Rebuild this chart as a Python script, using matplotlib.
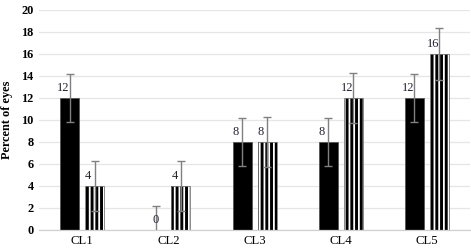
import numpy as np
import matplotlib
matplotlib.use("Agg")
import matplotlib.pyplot as plt

# ── Data ───────────────────────────────────────────────────────────────────────
categories = ["CL1", "CL2", "CL3", "CL4", "CL5"]
solid_vals = [12, 0, 8, 8, 12]
solid_err = [2.2, 2.2, 2.2, 2.2, 2.2]
striped_vals = [4, 4, 8, 12, 16]
striped_err = [2.3, 2.3, 2.3, 2.3, 2.4]
yticks = list(range(0, 21, 2))

# dpi picked so the '|||' hatch gives ~4.7 px stripe spacing
DPI = 85
S = 100 / DPI  # keep sizes as if drawn at 100 dpi

plt.rcParams.update({
    "font.family": "Liberation Serif",
    "hatch.linewidth": 2.1 * S,
})
GRID = "#e6e6e6"
ERR = "#808080"

fig = plt.figure(figsize=(471 / DPI, 248 / DPI), dpi=DPI)
ax = fig.add_axes([0.083, 0.073, 0.915, 0.887])

x = np.arange(len(categories))
off, w = 0.145, 0.22

ax.bar(x - off, solid_vals, width=w, color="black", edgecolor="#555555",
       linewidth=0.6 * S, zorder=2)
ax.bar(x + off, striped_vals, width=w, color="white", edgecolor="black",
       hatch="|||", linewidth=0, zorder=2)
ax.bar(x + off, striped_vals, width=w, fill=False, edgecolor="#777777",
       linewidth=0.6 * S, zorder=2)

for xs, vals, errs in ((x - off, solid_vals, solid_err),
                       (x + off, striped_vals, striped_err)):
    ax.errorbar(xs, vals, yerr=errs, fmt="none", ecolor=ERR,
                elinewidth=1 * S, capsize=3 * S, capthick=1 * S, zorder=3)
    for xi, v in zip(xs, vals):
        dx = 0 if v == 0 else -0.075
        ax.text(xi + dx, v + 0.35, str(v), ha="center", va="bottom",
                fontsize=9 * S, color="#222233", zorder=4)

ax.set_xlim(-0.5, len(categories) - 0.5)
ax.set_ylim(0, 20)
ax.set_yticks(yticks)
ax.set_xticks(x)
ax.set_xticklabels(categories, fontsize=9.2 * S)
for lab in ax.get_yticklabels():
    lab.set_fontweight("bold")
    lab.set_fontsize(8.8 * S)
ax.tick_params(axis="both", length=0, pad=4 * S)
ax.set_ylabel("Percent of eyes", fontweight="bold", fontsize=8.8 * S,
              labelpad=6 * S)

ax.yaxis.grid(True, color=GRID, linewidth=0.9 * S, zorder=0)
ax.set_axisbelow(True)
for s in ("top", "right", "left"):
    ax.spines[s].set_visible(False)
ax.spines["bottom"].set_color("#d0d0d0")
ax.spines["bottom"].set_linewidth(0.9 * S)

fig.savefig("out.png", dpi=DPI)
